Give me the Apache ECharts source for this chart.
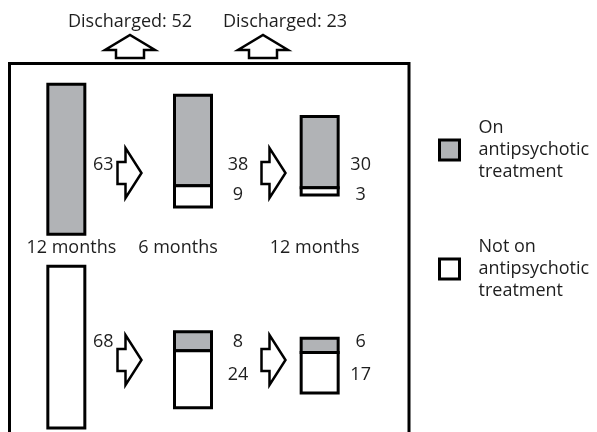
<!DOCTYPE html>
<html>
<head>
<meta charset="utf-8">
<script src="https://cdn.jsdelivr.net/npm/echarts@6/dist/echarts.min.js"></script>
<style>
  html, body { margin: 0; padding: 0; background: #fff; }
  #chart { width: 597px; height: 432px; }
</style>
</head>
<body>
<div id="chart"></div>
<script>
// follow-up stages (columns)
const stages = ['12 months', '6 months', '12 months']
// cohort on antipsychotics at baseline (top row)
const topOn = [63, 38, 30]
const topOff = [0, 9, 3]
// cohort not on antipsychotics at baseline (bottom row)
const bottomOn = [0, 8, 6]
const bottomOff = [68, 24, 17]
// discharged between stages
const discharged = [52, 23]
const statusNames = ['On\nantipsychotic\ntreatment', 'Not on\nantipsychotic\ntreatment']

// layout / style
const GRAY = '#b1b3b6'
const INK = '#1e1e1e'
const FONT = 'Open Sans'
const FS = 18
const BAR_W = 37
const barNudge = [[1.7, -1.7, 0.2], [-5.5, 4, 2.3]]   // vertical shift of each bar, patients
const labelDx = [37, 45, 41]                          // count label offset from bar centre, px
const labelDy = [[10, 40], [-18, 15]]                 // count label rows, px from row middle
const stageShift = [5, -15, -5]                       // stage label offset, px
const flowArrows = [[129.5, 173], [273.5, 173], [129.5, 360], [273.5, 360]]
const upArrows = [130, 263]
const dischargeTextX = [130, 285]

const rowsOn = [topOn, bottomOn]
const rowsOff = [topOff, bottomOff]

function makeRenderer(row, status) {
  return function (params, api) {
    const stage = api.value(0)
    const on = api.value(1)
    const off = api.value(2)
    const count = status === 0 ? on : off
    if (!count) return null
    const top = barNudge[row][params.dataIndex] - (on + off) / 2
    const y0 = status === 0 ? top : top + on
    const y1 = y0 + count
    const p0 = api.coord([stage, y0])
    const p1 = api.coord([stage, y1])
    const mid = api.coord([stage, 0])
    const line = stage === 0 ? 0 : status
    return {
      type: 'group',
      children: [
        {
          type: 'rect',
          shape: { x: p0[0] - BAR_W / 2, y: p0[1], width: BAR_W, height: p1[1] - p0[1] },
          style: { fill: status === 0 ? GRAY : '#fff', stroke: '#000', lineWidth: 3 }
        },
        {
          type: 'text',
          x: p0[0] + labelDx[stage],
          y: mid[1] + labelDy[row][line],
          style: {
            text: String(count), fill: INK, fontFamily: FONT, fontSize: FS,
            align: 'center', verticalAlign: 'middle'
          }
        }
      ]
    }
  }
}

function arrowRight(c) {
  const [x, y] = c
  return {
    type: 'polygon',
    shape: { points: [[x - 12, y - 11], [x - 4, y - 11], [x - 4, y - 25], [x + 12, y], [x - 4, y + 25], [x - 4, y + 11], [x - 12, y + 11]] },
    style: { fill: '#fff', stroke: '#000', lineWidth: 2.5 }
  }
}

function arrowUp(x) {
  const y = 58
  return {
    type: 'polygon',
    shape: { points: [[x - 14, y], [x - 14, y - 8], [x - 25, y - 8], [x, y - 23], [x + 25, y - 8], [x + 14, y - 8], [x + 14, y]] },
    style: { fill: '#fff', stroke: '#000', lineWidth: 2.5 }
  }
}

const series = []
for (let r = 0; r < 2; r++) {
  for (let s = 0; s < 2; s++) {
    series.push({
      type: 'custom',
      name: statusNames[s],
      xAxisIndex: r,
      yAxisIndex: r,
      silent: true,
      itemStyle: { color: s === 0 ? GRAY : '#fff' },
      data: stages.map((_, i) => [i, rowsOn[r][i], rowsOff[r][i]]),
      renderItem: makeRenderer(r, s)
    })
  }
}

const rich = {}
stageShift.forEach((d, i) => {
  rich['s' + i] = {
    fontFamily: FONT, fontSize: FS, color: INK,
    padding: d < 0 ? [0, -2 * d, 0, 0] : [0, 0, 0, 2 * d]
  }
})

const chart = echarts.init(document.getElementById('chart'))
chart.setOption({
  animation: false,
  grid: [
    { left: 3, width: 380, top: 60, height: 178.5 },
    { left: 3, width: 380, top: 265, height: 166.6 }
  ],
  xAxis: [
    {
      type: 'category', gridIndex: 0, data: stages,
      axisLine: { show: false }, axisTick: { show: false },
      axisLabel: {
        margin: 0, interval: 0,
        formatter: (v, i) => '{s' + i + '|' + v + '}',
        rich
      }
    },
    { type: 'category', gridIndex: 1, data: stages, show: false }
  ],
  yAxis: [
    { type: 'value', gridIndex: 0, min: -40, max: 35, inverse: true, show: false },
    { type: 'value', gridIndex: 1, min: -40, max: 30, inverse: true, show: false }
  ],
  legend: {
    orient: 'vertical', left: 438, top: 117, padding: 0,
    itemWidth: 20, itemHeight: 20, itemGap: 53,
    selectedMode: false,
    textStyle: { fontFamily: FONT, fontSize: FS, lineHeight: 22, color: INK, padding: [0, 0, 0, 14] },
    data: [
      { name: statusNames[0], icon: 'rect', itemStyle: { color: GRAY, borderColor: '#000', borderWidth: 3 } },
      { name: statusNames[1], icon: 'rect', itemStyle: { color: '#fff', borderColor: '#000', borderWidth: 3 } }
    ]
  },
  graphic: [
    {
      type: 'rect',
      shape: { x: 9.5, y: 63.5, width: 399.5, height: 400 },
      style: { fill: 'none', stroke: '#000', lineWidth: 3 }
    },
    ...flowArrows.map(arrowRight),
    ...upArrows.map(arrowUp),
    ...discharged.map((d, i) => ({
      type: 'text',
      x: dischargeTextX[i], y: 22,
      style: {
        text: 'Discharged: ' + d, fill: INK, fontFamily: FONT, fontSize: FS,
        align: 'center', verticalAlign: 'middle'
      }
    }))
  ],
  series
})
</script>
</body>
</html>
